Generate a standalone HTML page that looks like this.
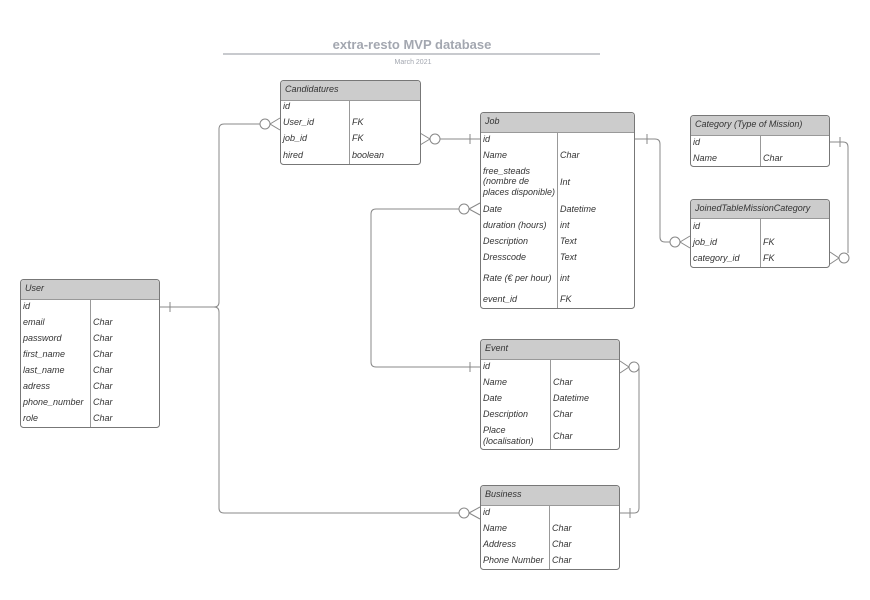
<!DOCTYPE html>
<html><head><meta charset="utf-8"><style>
html,body{margin:0;padding:0;background:#fff;}
svg{display:block;}
text{font-family:"Liberation Sans",sans-serif;font-style:italic;font-size:9px;fill:#333;}
.h{fill:#cccccc;}
.b{fill:#fff;stroke:#777;stroke-width:1;}
.l{fill:none;stroke:#888;stroke-width:1;}
</style></head><body>
<svg width="870" height="600" viewBox="0 0 870 600" xmlns="http://www.w3.org/2000/svg">
<text x="412" y="49" text-anchor="middle" style="font-style:normal;font-weight:bold;font-size:13px;fill:#a3a7b0">extra-resto MVP database</text>
<line x1="223" y1="54" x2="600" y2="54" stroke="#c8cace" stroke-width="2"/>
<text x="413" y="64" text-anchor="middle" style="font-style:normal;font-size:7px;fill:#a3a7b0">March 2021</text>

<!-- connectors -->
<g class="l">
<path d="M160 307 H214 Q219 307 219 302 V129 Q219 124 224 124 H260"/>
<path d="M214 307 Q219 307 219 312 V508 Q219 513 224 513 H459"/>
<line x1="170" y1="302" x2="170" y2="312"/>
<circle cx="265" cy="124" r="5"/><path d="M270 124 L280 118 M270 124 L280 130"/>
<circle cx="464" cy="513" r="5"/><path d="M469 513 L480 507 M469 513 L480 519"/>
<path d="M440 139 H480"/><line x1="470" y1="134" x2="470" y2="144"/>
<circle cx="435" cy="139" r="5"/><path d="M430 139 L420 133 M430 139 L420 145"/>
<path d="M459 209 H376 Q371 209 371 214 V362 Q371 367 376 367 H480"/>
<circle cx="464" cy="209" r="5"/><path d="M469 209 L480 203 M469 209 L480 215"/>
<line x1="470" y1="362" x2="470" y2="372"/>
<path d="M635 139 H655 Q660 139 660 144 V237 Q660 242 665 242 H670"/>
<line x1="647" y1="134" x2="647" y2="144"/>
<circle cx="675" cy="242" r="5"/><path d="M680 242 L690 236 M680 242 L690 248"/>
<path d="M830 142 H843 Q848 142 848 147 V253"/>
<line x1="840" y1="137" x2="840" y2="147"/>
<circle cx="844" cy="258" r="5"/><path d="M839 258 L830 252 M839 258 L830 264"/>
<path d="M639 367 V508 Q639 513 634 513 H620"/>
<circle cx="634" cy="367" r="5"/><path d="M629 367 L620 361 M629 367 L620 373"/>
<line x1="630" y1="508" x2="630" y2="518"/>
</g>

<!-- Candidatures -->
<rect class="b" x="280.5" y="80.5" width="140" height="84" rx="3"/>
<path class="h" d="M281 100 V84 Q281 81 284 81 H417 Q420 81 420 84 V100 Z"/>
<line x1="281" y1="100.5" x2="420" y2="100.5" stroke="#999"/>
<line x1="349.5" y1="100" x2="349.5" y2="164" stroke="#999"/>
<text x="285" y="92">Candidatures</text>
<text x="283" y="109">id</text>
<text x="283" y="125">User_id</text><text x="352" y="125">FK</text>
<text x="283" y="141">job_id</text><text x="352" y="141">FK</text>
<text x="283" y="158">hired</text><text x="352" y="158">boolean</text>

<!-- Job -->
<rect class="b" x="480.5" y="112.5" width="154" height="196" rx="3"/>
<path class="h" d="M481 132 V116 Q481 113 484 113 H631 Q634 113 634 116 V132 Z"/>
<line x1="481" y1="132.5" x2="634" y2="132.5" stroke="#999"/>
<line x1="557.5" y1="132" x2="557.5" y2="308" stroke="#999"/>
<text x="485" y="124">Job</text>
<text x="483" y="142">id</text>
<text x="483" y="158">Name</text><text x="560" y="158">Char</text>
<text x="483" y="174">free_steads</text>
<text x="483" y="184">(nombre de</text>
<text x="483" y="195">places disponible)</text><text x="560" y="185">Int</text>
<text x="483" y="212">Date</text><text x="560" y="212">Datetime</text>
<text x="483" y="228">duration (hours)</text><text x="560" y="228">int</text>
<text x="483" y="244">Description</text><text x="560" y="244">Text</text>
<text x="483" y="260">Dresscode</text><text x="560" y="260">Text</text>
<text x="483" y="281">Rate (€ per hour)</text><text x="560" y="281">int</text>
<text x="483" y="302">event_id</text><text x="560" y="302">FK</text>

<!-- Category -->
<rect class="b" x="690.5" y="115.5" width="139" height="51" rx="3"/>
<path class="h" d="M691 135 V119 Q691 116 694 116 H826 Q829 116 829 119 V135 Z"/>
<line x1="691" y1="135.5" x2="829" y2="135.5" stroke="#999"/>
<line x1="760.5" y1="135" x2="760.5" y2="166" stroke="#999"/>
<text x="695" y="127">Category (Type of Mission)</text>
<text x="693" y="145">id</text>
<text x="693" y="161">Name</text><text x="763" y="161">Char</text>

<!-- Joined -->
<rect class="b" x="690.5" y="199.5" width="139" height="68" rx="3"/>
<path class="h" d="M691 218 V203 Q691 200 694 200 H826 Q829 200 829 203 V218 Z"/>
<line x1="691" y1="218.5" x2="829" y2="218.5" stroke="#999"/>
<line x1="760.5" y1="218" x2="760.5" y2="267" stroke="#999"/>
<text x="695" y="211">JoinedTableMissionCategory</text>
<text x="693" y="229">id</text>
<text x="693" y="245">job_id</text><text x="763" y="245">FK</text>
<text x="693" y="261">category_id</text><text x="763" y="261">FK</text>

<!-- User -->
<rect class="b" x="20.5" y="279.5" width="139" height="148" rx="3"/>
<path class="h" d="M21 299 V283 Q21 280 24 280 H156 Q159 280 159 283 V299 Z"/>
<line x1="21" y1="299.5" x2="159" y2="299.5" stroke="#999"/>
<line x1="90.5" y1="299" x2="90.5" y2="427" stroke="#999"/>
<text x="25" y="291">User</text>
<text x="23" y="309">id</text>
<text x="23" y="325">email</text><text x="93" y="325">Char</text>
<text x="23" y="341">password</text><text x="93" y="341">Char</text>
<text x="23" y="357">first_name</text><text x="93" y="357">Char</text>
<text x="23" y="373">last_name</text><text x="93" y="373">Char</text>
<text x="23" y="389">adress</text><text x="93" y="389">Char</text>
<text x="23" y="405">phone_number</text><text x="93" y="405">Char</text>
<text x="23" y="421">role</text><text x="93" y="421">Char</text>

<!-- Event -->
<rect class="b" x="480.5" y="339.5" width="139" height="110" rx="3"/>
<path class="h" d="M481 359 V343 Q481 340 484 340 H616 Q619 340 619 343 V359 Z"/>
<line x1="481" y1="359.5" x2="619" y2="359.5" stroke="#999"/>
<line x1="550.5" y1="359" x2="550.5" y2="449" stroke="#999"/>
<text x="485" y="351">Event</text>
<text x="483" y="369">id</text>
<text x="483" y="385">Name</text><text x="553" y="385">Char</text>
<text x="483" y="401">Date</text><text x="553" y="401">Datetime</text>
<text x="483" y="417">Description</text><text x="553" y="417">Char</text>
<text x="483" y="433">Place</text><text x="483" y="444">(localisation)</text><text x="553" y="439">Char</text>

<!-- Business -->
<rect class="b" x="480.5" y="485.5" width="139" height="84" rx="3"/>
<path class="h" d="M481 505 V489 Q481 486 484 486 H616 Q619 486 619 489 V505 Z"/>
<line x1="481" y1="505.5" x2="619" y2="505.5" stroke="#999"/>
<line x1="549.5" y1="505" x2="549.5" y2="569" stroke="#999"/>
<text x="485" y="497">Business</text>
<text x="483" y="515">id</text>
<text x="483" y="531">Name</text><text x="552" y="531">Char</text>
<text x="483" y="547">Address</text><text x="552" y="547">Char</text>
<text x="483" y="563">Phone Number</text><text x="552" y="563">Char</text>
</svg>
</body></html>
